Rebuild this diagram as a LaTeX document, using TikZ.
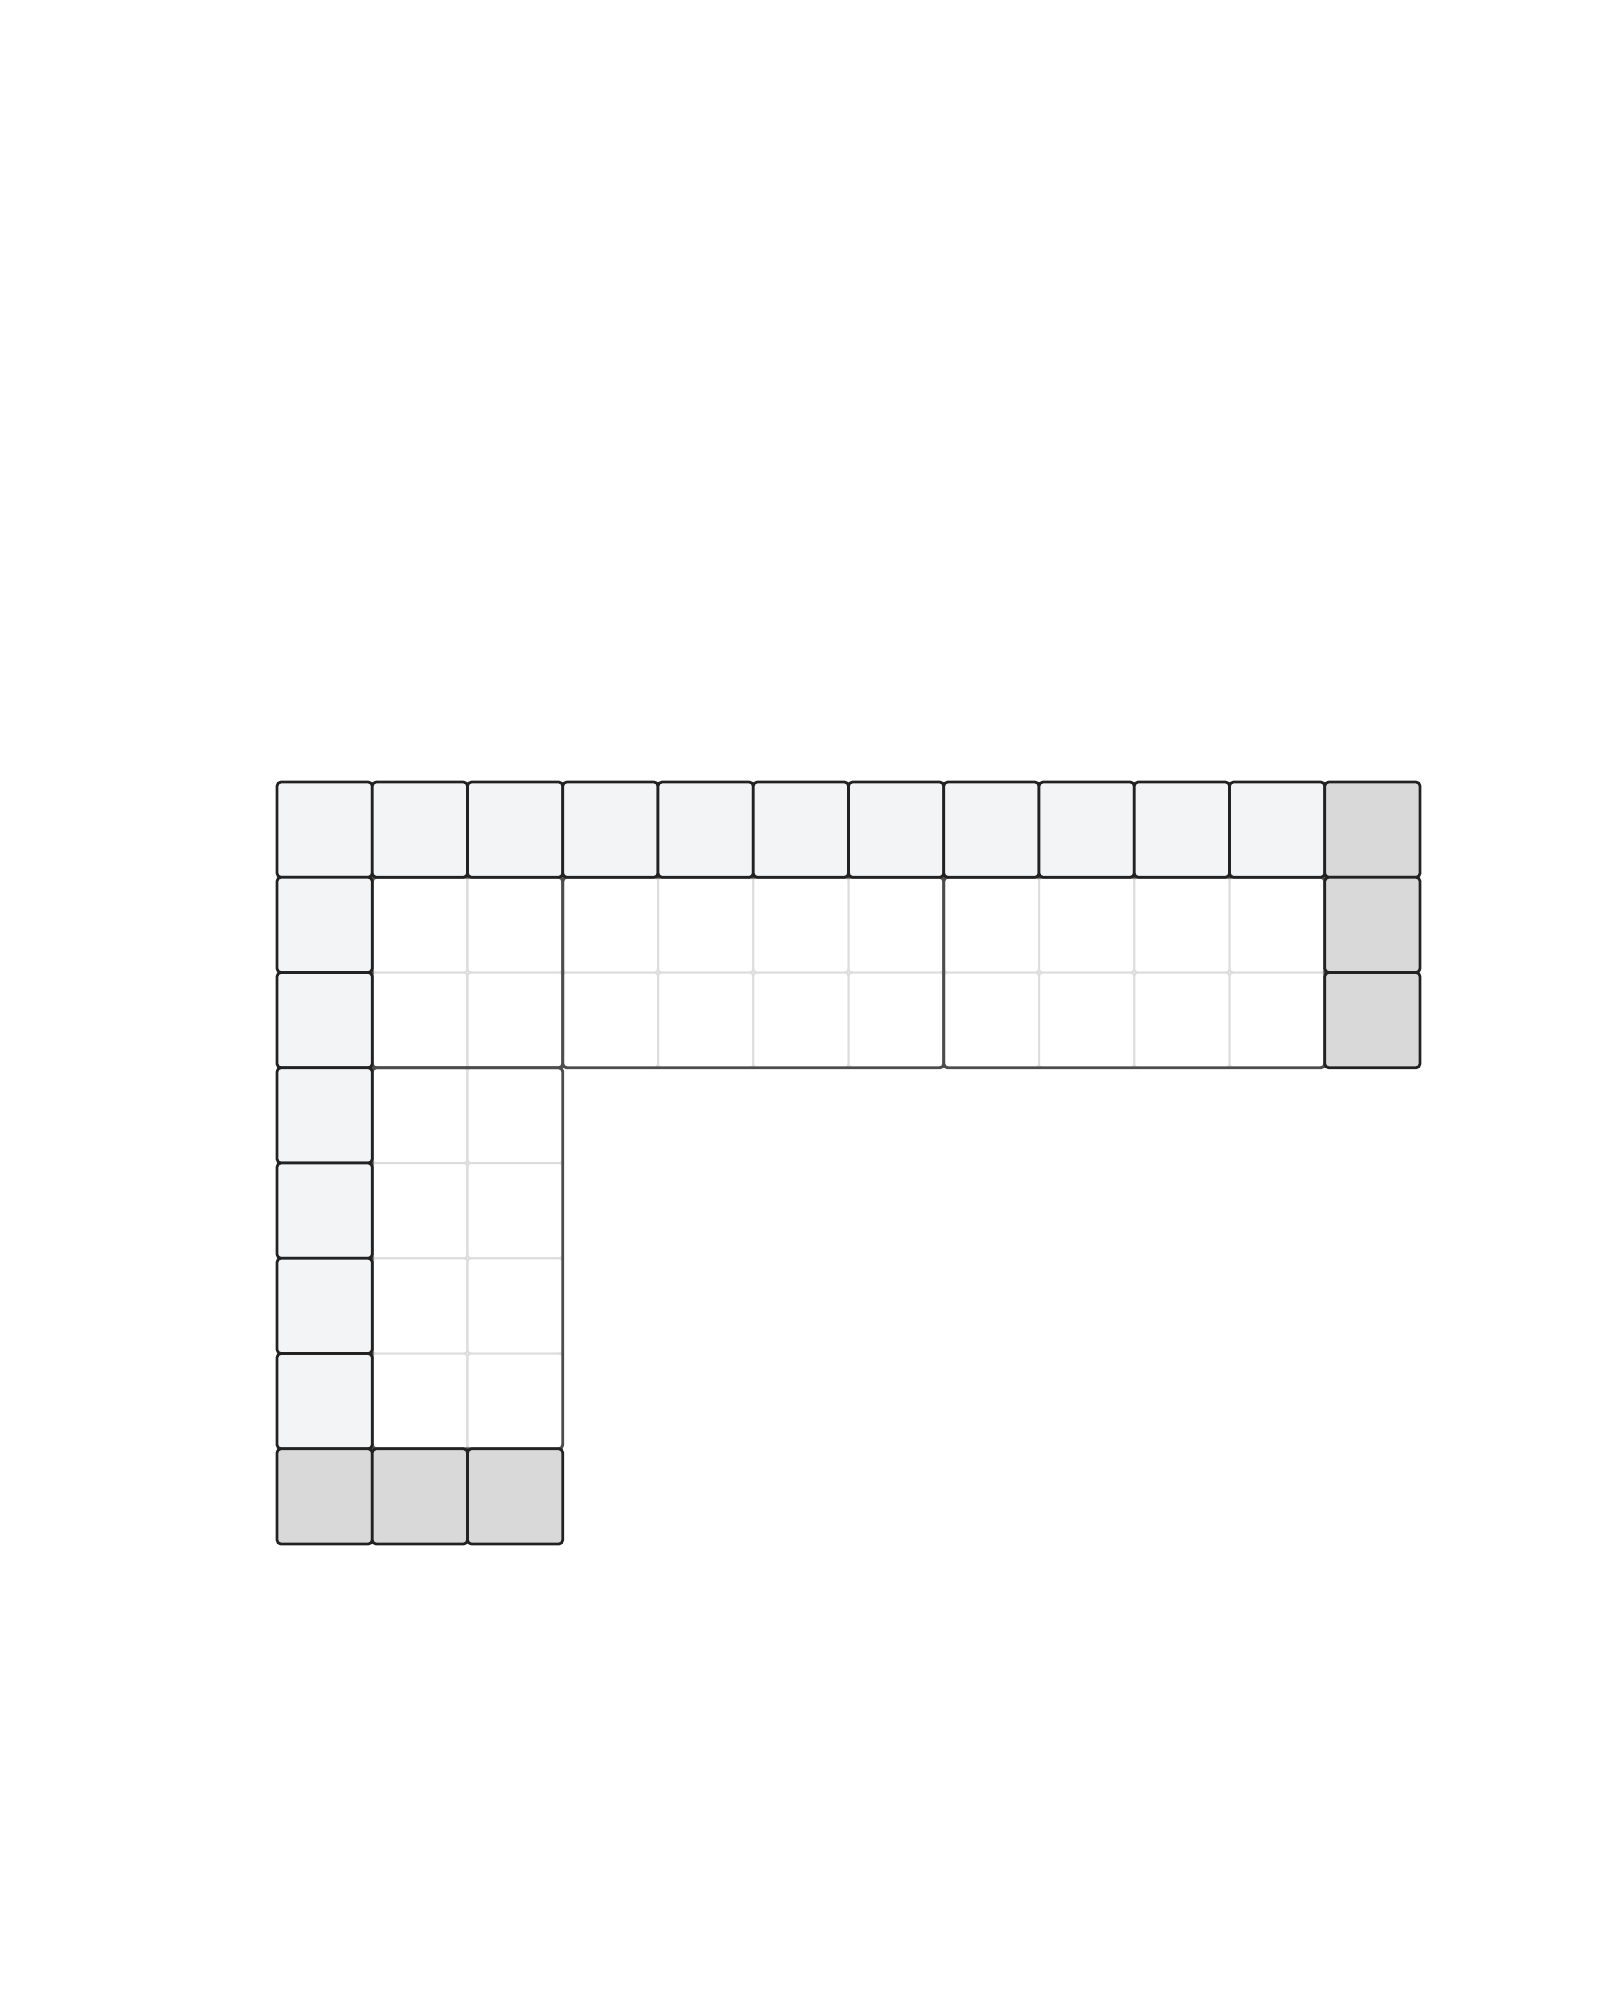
\documentclass[tikz,border=0pt]{standalone}
\usepackage{xcolor}
\definecolor{lightcell}{HTML}{F3F4F6}
\definecolor{darkcell}{HTML}{D9D9D9}
\definecolor{cellline}{HTML}{222222}
\definecolor{innerline}{HTML}{DDDDDD}
\definecolor{blockline}{HTML}{4D4D4D}
\begin{document}
\begin{tikzpicture}[
  graycell/.style={fill=lightcell,draw=cellline,line width=0.8pt,rounded corners=1.2pt},
  darkgraycell/.style={fill=darkcell,draw=cellline,line width=0.8pt,rounded corners=1.2pt},
  whitecell/.style={fill=white,draw=innerline,line width=0.6pt,rounded corners=1pt},
  blockoutline/.style={draw=blockline,line width=0.85pt,rounded corners=1.2pt}
]
\useasboundingbox (-2.908,8.21) rectangle (13.89,-12.787);
\fill[white] (-2.908,8.21) rectangle (13.89,-12.787);
% white cells
\foreach \c in {1,...,10}{\foreach \r in {1,2}{
  \draw[whitecell] (\c,-\r) rectangle ++(1,-1);}}
\foreach \c in {1,2}{\foreach \r in {3,...,6}{
  \draw[whitecell] (\c,-\r) rectangle ++(1,-1);}}
% block outlines
\draw[blockoutline] (1,-1) rectangle (3,-3);
\draw[blockoutline] (3,-1) rectangle (7,-3);
\draw[blockoutline] (7,-1) rectangle (11,-3);
\draw[blockoutline] (1,-3) rectangle (3,-7);
% top row
\foreach \c in {0,...,10}{\draw[graycell] (\c,0) rectangle ++(1,-1);}
\draw[darkgraycell] (11,0) rectangle ++(1,-1);
% left column
\foreach \r in {1,...,6}{\draw[graycell] (0,-\r) rectangle ++(1,-1);}
% right column
\foreach \r in {1,2}{\draw[darkgraycell] (11,-\r) rectangle ++(1,-1);}
% bottom row
\foreach \c in {0,1,2}{\draw[darkgraycell] (\c,-7) rectangle ++(1,-1);}
\end{tikzpicture}
\end{document}
